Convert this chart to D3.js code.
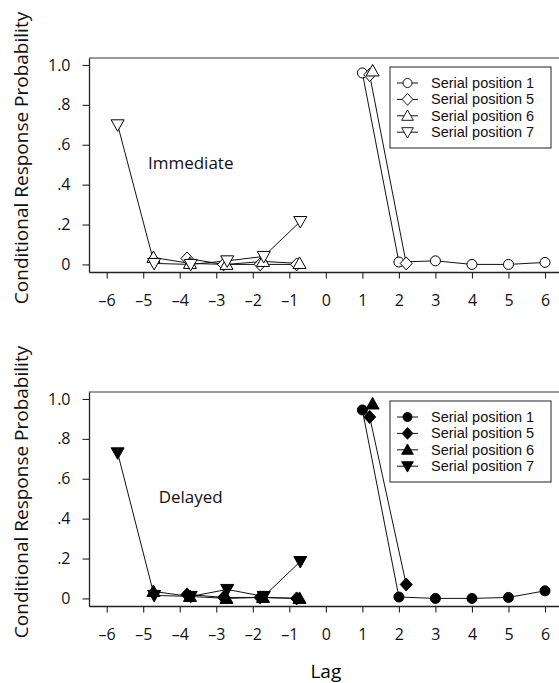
<!DOCTYPE html>
<html>
<head>
<meta charset="utf-8">
<script src="https://cdn.jsdelivr.net/npm/d3@7"></script>
<style>
	body { margin: 0; background: #fff; }
	svg { display: block; font-family: "Open Sans", sans-serif; }
</style>
</head>
<body>
<svg id="chart" width="559" height="683"></svg>
<script>
// Series names and lags per serial position
const seriesNames = ["Serial position 1", "Serial position 5", "Serial position 6", "Serial position 7"];
const lagsSP1 = [1, 2, 3, 4, 5, 6];
const lagsSP5 = [-4, -3, -2, -1, 1, 2];
const lagsSP6 = [-5, -4, -3, -2, -1, 1];
const lagsSP7 = [-6, -5, -4, -3, -2, -1];

// Immediate recall
const immediateSP1 = [0.96, 0.012, 0.018, 0.0, 0.0, 0.01];
const immediateSP5 = [0.03, 0.0, 0.0, 0.0, 0.95, 0.005];
const immediateSP6 = [0.035, 0.005, 0.0, 0.015, 0.005, 0.97];
const immediateSP7 = [0.70, 0.005, 0.0, 0.018, 0.04, 0.215];

// Delayed recall
const delayedSP1 = [0.945, 0.007, 0.0, 0.0, 0.005, 0.038];
const delayedSP5 = [0.02, 0.005, 0.005, 0.0, 0.91, 0.07];
const delayedSP6 = [0.035, 0.01, 0.0, 0.005, 0.0, 0.975];
const delayedSP7 = [0.73, 0.015, 0.01, 0.045, 0.01, 0.185];

// Axis ticks
const xTickValues = [-6, -5, -4, -3, -2, -1, 0, 1, 2, 3, 4, 5, 6];
const yTickValues = [0, 0.2, 0.4, 0.6, 0.8, 1.0];
const yTickLabels = ["0", ".2", ".4", ".6", ".8", "1.0"];

const svg = d3.select("#chart");

const dimensions = {
	left: 89,
	right: 559,
	panelHeight: 214,
	tickSize: 6.5,
	markerStroke: 1,
	lineStroke: 1,
	tickFont: "16px",
	legendFont: "14.5px",
	legendRow: 16.4,
	labelFont: "17px",
	titleFont: "19px",
};

const colors = {
	axis: "#222",
	frameTop: "#777",
	line: "#111",
};

// marker shapes, drawn around (0,0)
const shapes = {
	circle: "M5,0A5,5 0 1,1 -5,0A5,5 0 1,1 5,0Z",
	diamond: "M0,-6.5L6,0L0,6.5L-6,0Z",
	up: "M0,-6.5L6.5,5L-6.5,5Z",
	down: "M0,6.5L6.5,-5L-6.5,-5Z",
};
const seriesShapes = ["circle", "diamond", "up", "down"];
const lagShift = [0, 0.2, 0.28, 0.3];

const x = d3.scaleLinear().domain([-6.484, 6.383]).range([dimensions.left, dimensions.right]);

const immediatePanel = {
	top: 58,
	label: "Immediate",
	fill: "#fff",
	lags: [lagsSP1, lagsSP5, lagsSP6, lagsSP7],
	values: [immediateSP1, immediateSP5, immediateSP6, immediateSP7],
};
const delayedPanel = {
	top: 392,
	label: "Delayed",
	fill: "#000",
	lags: [lagsSP1, lagsSP5, lagsSP6, lagsSP7],
	values: [delayedSP1, delayedSP5, delayedSP6, delayedSP7],
};

render(immediatePanel);
render(delayedPanel);

// x axis title
svg.append("text")
	.attr("x", x(0))
	.attr("y", 678)
	.attr("text-anchor", "middle")
	.style("font-size", dimensions.titleFont)
	.text("Lag");

function render(panel) {
	const bottom = panel.top + dimensions.panelHeight;
	const y = d3.scaleLinear().domain([-0.038, 1.035]).range([bottom, panel.top]);
	const g = svg.append("g");

	// frame: grey top rule
	g.append("line")
		.attr("x1", dimensions.left)
		.attr("x2", dimensions.right)
		.attr("y1", panel.top)
		.attr("y2", panel.top)
		.attr("stroke", colors.frameTop)
		.attr("stroke-width", 1.3);

	// y axis
	const yAxis = g.append("g")
		.attr("transform", `translate(${dimensions.left},0)`)
		.call(d3.axisLeft(y)
			.tickValues(yTickValues)
			.tickFormat((d, i) => yTickLabels[i])
			.tickSize(dimensions.tickSize)
			.tickSizeOuter(0)
			.tickPadding(12));

	// x axis
	const xAxis = g.append("g")
		.attr("transform", `translate(0,${bottom})`)
		.call(d3.axisBottom(x)
			.tickValues(xTickValues)
			.tickFormat((d) => (d < 0 ? "\u2013" + Math.abs(d) : d))
			.tickSize(dimensions.tickSize)
			.tickSizeOuter(0)
			.tickPadding(16));

	[yAxis, xAxis].forEach((ax) => {
		ax.selectAll("path.domain").attr("stroke", colors.axis).attr("stroke-width", 1.3);
		ax.selectAll(".tick line").attr("stroke", colors.axis).attr("stroke-width", 1.1);
		ax.selectAll(".tick text")
			.attr("fill", "#111")
			.style("font-family", "Open Sans, sans-serif")
			.style("font-size", dimensions.tickFont);
	});

	// Data structuring: one point list per series
	const series = panel.lags.map((lags, s) =>
		lags.map((lag, i) => ({ lag: lag, value: panel.values[s][i], s: s }))
	);

	const line = d3.line()
		.x((d) => x(d.lag + lagShift[d.s]))
		.y((d) => y(d.value));

	// Add lines, broken across lag 0
	const lines = g.append("g");
	series.forEach((pts) => {
		d3.groups(pts, (d) => d.lag > 0).forEach(([, seg]) => {
			if (seg.length < 2) return;
			lines.append("path")
				.attr("d", line(seg))
				.attr("fill", "none")
				.attr("stroke", colors.line)
				.attr("stroke-width", dimensions.lineStroke);
		});
	});

	// Add markers
	const markers = g.append("g");
	series.forEach((pts, s) => {
		markers.selectAll(null)
			.data(pts)
			.enter()
			.append("path")
			.attr("d", shapes[seriesShapes[s]])
			.attr("transform", (d) => `translate(${x(d.lag + lagShift[s])},${y(d.value)})`)
			.attr("fill", panel.fill)
			.attr("stroke", "#000")
			.attr("stroke-width", dimensions.markerStroke);
	});

	// Panel label
	g.append("text")
		.attr("x", x(-3.7))
		.attr("y", y(0.48))
		.attr("text-anchor", "middle")
		.attr("fill", "#111")
		.style("font-size", dimensions.labelFont)
		.text(panel.label);

	// y axis title
	g.append("text")
		.attr("transform", `translate(28,${panel.top + dimensions.panelHeight / 2 - 7}) rotate(-90)`)
		.attr("text-anchor", "middle")
		.attr("fill", "#111")
		.style("font-size", dimensions.titleFont)
		.text("Conditional Response Probability");

	// Legend
	const legend = g.append("g").attr("transform", `translate(390,${panel.top + 9})`);
	legend.append("rect")
		.attr("width", 161)
		.attr("height", 81)
		.attr("fill", "#fff")
		.attr("stroke", "#222")
		.attr("stroke-width", 1);
	const rows = legend.selectAll("g.row")
		.data(seriesNames)
		.enter()
		.append("g")
		.attr("class", "row")
		.attr("transform", (d, i) => `translate(0,${16 + i * dimensions.legendRow})`);
	rows.append("line")
		.attr("x1", 7)
		.attr("x2", 28)
		.attr("stroke", colors.line)
		.attr("stroke-width", 1);
	rows.append("path")
		.attr("d", (d, i) => shapes[seriesShapes[i]])
		.attr("transform", "translate(17.5,0) scale(0.9)")
		.attr("fill", panel.fill)
		.attr("stroke", "#000")
		.attr("stroke-width", 1);
	rows.append("text")
		.attr("x", 41)
		.attr("y", 5)
		.attr("fill", "#111")
		.style("font-family", "Liberation Sans, Arial, sans-serif")
		.style("font-size", dimensions.legendFont)
		.text((d) => d);
}
</script>
</body>
</html>
